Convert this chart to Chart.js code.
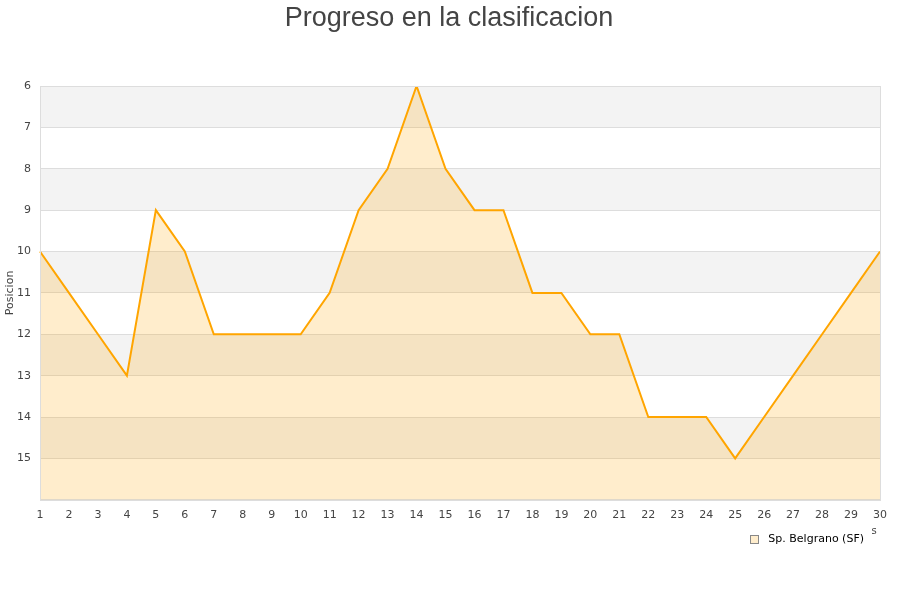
<!DOCTYPE html>
<html>
<head>
<meta charset="utf-8">
<script src="https://cdn.jsdelivr.net/npm/chart.js@4"></script>
<style>
html,body{margin:0;padding:0;background:#fff;}
#wrap{width:900px;height:600px;position:relative;}
</style>
</head>
<body>
<div id="wrap"><canvas id="c" width="900" height="600"></canvas></div>
<script>
const jornadas = [1,2,3,4,5,6,7,8,9,10,11,12,13,14,15,16,17,18,19,20,21,22,23,24,25,26,27,28,29,30];
const posiciones = [10,11,12,13,9,10,12,12,12,12,11,9,8,6,8,9,9,11,11,12,12,14,14,14,15,14,13,12,11,10];
const equipo = 'Sp. Belgrano (SF)';
const tituloTexto = 'Progreso en la clasificacion';
const ejeY = 'Posicion';
const ejeXResto = 's';
const yMin = 6, yMax = 16;

const lineColor = '#ffa500';
const fillColor = 'rgba(255,165,0,0.2)';

const bandsPlugin = {
  id: 'bands',
  beforeDraw(chart) {
    const {ctx, chartArea: a, scales: {y}} = chart;
    ctx.save();
    for (let v = yMin; v < yMax; v++) {
      if ((v - yMin) % 2 === 0) {
        const p1 = y.getPixelForValue(v), p2 = y.getPixelForValue(v + 1);
        ctx.fillStyle = '#f3f3f3';
        ctx.fillRect(a.left, Math.min(p1, p2), a.right - a.left, Math.abs(p2 - p1));
      }
    }
    // title centred on the whole canvas
    ctx.font = '27px "Liberation Sans"';
    ctx.textAlign = 'center';
    ctx.textBaseline = 'alphabetic';
    ctx.fillStyle = '#444444';
    ctx.fillText(tituloTexto, chart.width / 2 - 1, 26);
    ctx.restore();
  },
  afterDraw(chart) {
    const {ctx, chartArea: a} = chart;
    ctx.save();
    ctx.strokeStyle = '#dddddd';
    ctx.lineWidth = 1;
    ctx.strokeRect(Math.round(a.left) + 0.5, Math.round(a.top) + 0.5, Math.round(a.right - a.left), Math.round(a.bottom - a.top));
    // legend (custom, bottom right)
    ctx.font = '11px "DejaVu Sans"';
    ctx.textBaseline = 'middle';
    ctx.textAlign = 'right';
    ctx.fillStyle = '#000000';
    const tx = a.right - 16, ty = a.bottom + 39;
    ctx.fillText(equipo, tx, ty);
    const tw = ctx.measureText(equipo).width;
    const bx = Math.round(tx - tw - 18) + 0.5, by = Math.round(ty - 4) + 0.5;
    ctx.fillStyle = fillColor;
    ctx.fillRect(bx, by, 8, 8);
    ctx.strokeStyle = '#888888';
    ctx.strokeRect(bx, by, 8, 8);
    // clipped remnant of the x axis title
    ctx.font = '10px "DejaVu Sans"';
    ctx.textAlign = 'center';
    ctx.fillStyle = '#444444';
    ctx.fillText(ejeXResto, a.right - 6, a.bottom + 32);
    ctx.restore();
  }
};

new Chart(document.getElementById('c'), {
  type: 'line',
  data: {
    labels: jornadas,
    datasets: [{
      label: equipo,
      data: posiciones,
      borderColor: lineColor,
      backgroundColor: fillColor,
      borderWidth: 2,
      pointRadius: 0,
      tension: 0,
      fill: {value: yMax}
    }]
  },
  options: {
    responsive: false,
    animation: false,
    layout: {padding: {left: 0, right: 20, top: 86, bottom: 77}},
    plugins: {
      title: {display: false},
      legend: {display: false},
      tooltip: {enabled: false}
    },
    scales: {
      x: {
        type: 'category',
        offset: false,
        grid: {display: false},
        border: {display: false},
        ticks: {color: '#444444', font: {family: 'DejaVu Sans', size: 11}, maxRotation: 0, autoSkip: false, padding: 1}
      },
      y: {
        reverse: true,
        min: yMin,
        max: yMax,
        grid: {color: '#dddddd', drawTicks: false},
        border: {display: false},
        title: {display: true, text: ejeY, color: '#444444', font: {family: 'DejaVu Sans', size: 11}, padding: {top: 4, bottom: 0}},
        afterFit(scale) { scale.width = 40; },
        ticks: {
          stepSize: 1,
          color: '#444444',
          font: {family: 'DejaVu Sans', size: 11},
          padding: 9,
          callback: (v) => v === yMax ? '' : v
        }
      }
    }
  },
  plugins: [bandsPlugin]
});
</script>
</body>
</html>
